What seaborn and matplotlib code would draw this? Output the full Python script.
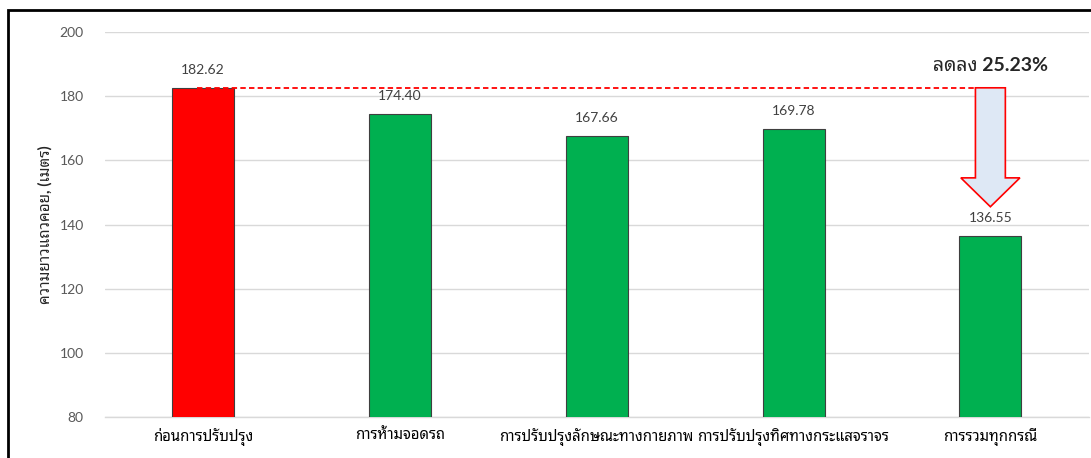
import matplotlib
matplotlib.use("Agg")
import matplotlib.pyplot as plt
from matplotlib.patches import Polygon, Rectangle
import seaborn as sns

# Queue length per scenario (metres)
categories = [
    "ก่อนการปรับปรุง",
    "การห้ามจอดรถ",
    "การปรับปรุงลักษณะทางกายภาพ",
    "การปรับปรุงทิศทางกระแสจราจร",
    "การรวมทุกกรณี",
]
queue_length = [182.62, 174.40, 167.66, 169.78, 136.55]
bar_colors = ["#FF0000", "#00B050", "#00B050", "#00B050", "#00B050"]
y_ticks = [80, 100, 120, 140, 160, 180, 200]
y_label = "ความยาวแถวคอย, (เมตร)"

sns.set_style("white")
plt.rcParams["font.family"] = ["Lato", "Noto Sans Thai Looped", "DejaVu Sans"]

fig = plt.figure(figsize=(10.91, 4.58), dpi=100)
ax = fig.add_axes([0.0958, 0.0895, 0.9022, 0.8405])

sns.barplot(x=categories, y=queue_length, hue=categories, palette=bar_colors,
            width=0.315, edgecolor="#3F3F3F", linewidth=0.8, legend=False,
            saturation=1, ax=ax, zorder=3)

ax.set_ylim(y_ticks[0], y_ticks[-1])
ax.set_yticks(y_ticks)
ax.set_xlim(-0.5, len(categories) - 0.5)
ax.yaxis.grid(True, color="#D9D9D9", linewidth=1, zorder=0)
ax.set_axisbelow(True)
for side in ["top", "right", "left"]:
    ax.spines[side].set_visible(False)
ax.spines["bottom"].set_color("#D9D9D9")
ax.spines["bottom"].set_linewidth(1)
ax.tick_params(axis="both", length=0)
ax.tick_params(axis="y", labelsize=10, labelcolor="#595959", pad=15)
ax.tick_params(axis="x", labelsize=10.7, labelcolor="#000000", pad=8)
ax.set_xlabel("")
ax.set_ylabel(y_label, fontsize=11, fontweight="bold")
ax.yaxis.set_label_coords(-0.053, 0.5)

# value labels above each bar
for i, v in enumerate(queue_length):
    ax.annotate(f"{v:.2f}", (i, v), xytext=(0, 8.5), textcoords="offset points",
                ha="center", va="bottom", fontsize=10, color="#404040")

# reference line at the baseline value and the reduction arrow
base = queue_length[0]
final = queue_length[-1]
last = len(categories) - 1
shaft_hw, head_hw = 0.076, 0.15
ax.plot([-0.03, last - shaft_hw], [base, base], color="#FF0000",
        linestyle=(0, (3, 1.8)), linewidth=1.3, zorder=4)
head_top = final + 18
tip = final + 9
arrow = Polygon([
    (last - shaft_hw, base), (last + shaft_hw, base),
    (last + shaft_hw, head_top), (last + head_hw, head_top),
    (last, tip), (last - head_hw, head_top), (last - shaft_hw, head_top),
], closed=True, facecolor="#DEE8F5", edgecolor="#FF0000", linewidth=1.2, zorder=5)
ax.add_patch(arrow)

reduction = (base - final) / base * 100
ax.annotate(f"ลดลง {reduction:.2f}%", (last, base), xytext=(0, 10),
            textcoords="offset points", ha="center", va="bottom",
            fontsize=14, fontweight="bold", color="#262626")

# outer frame of the chart area
fig.add_artist(Rectangle((8 / 1091, -0.05), 1.2, 1 - 10 / 458 + 0.05,
                         transform=fig.transFigure, fill=False,
                         edgecolor="#000000", linewidth=2))

fig.savefig("out.png", dpi=100)
